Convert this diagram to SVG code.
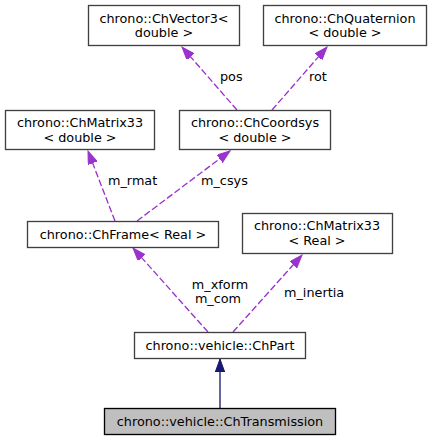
<svg xmlns="http://www.w3.org/2000/svg" width="432" height="440" viewBox="0 0 432 440">
<style>
.box{fill:#ffffff;stroke:#404040;stroke-width:1.33}
.cur{fill:#bfbfbf;stroke:#000000;stroke-width:1.33}
text{font-family:"DejaVu Sans","Liberation Sans",sans-serif;font-size:12.8px;fill:#000000}
.c{text-anchor:middle}
.dep{fill:none;stroke:#9a32cd;stroke-width:1.33;stroke-dasharray:6.7,2.7}
.inh{fill:none;stroke:#191970;stroke-width:1.33}
</style>
<defs>
<marker id="ap" markerUnits="userSpaceOnUse" markerWidth="14" markerHeight="10" refX="13" refY="4.7" orient="auto" viewBox="0 0 14 10">
<path d="M0,0 L13,4.7 L0,9.4 Z" fill="#9a32cd" stroke="#9a32cd" stroke-width="1"/>
</marker>
<marker id="an" markerUnits="userSpaceOnUse" markerWidth="14" markerHeight="10" refX="13" refY="4.7" orient="auto" viewBox="0 0 14 10">
<path d="M0,0 L13,4.7 L0,9.4 Z" fill="#191970" stroke="#191970" stroke-width="1"/>
</marker>
</defs>
<rect width="432" height="440" fill="#ffffff"/>
<g id="connectors">
<path class="dep" d="M237,110 L182,47" marker-end="url(#ap)"/>
<path class="dep" d="M272,110 L327,47" marker-end="url(#ap)"/>
<path class="dep" d="M115,221 L88,151" marker-end="url(#ap)"/>
<path class="dep" d="M137,221 L230,151" marker-end="url(#ap)"/>
<path class="dep" d="M208,332 L133,248" marker-end="url(#ap)"/>
<path class="dep" d="M233,332 L302,255" marker-end="url(#ap)"/>
<path class="inh" d="M220,408 L220,359" marker-end="url(#an)"/>
<text x="220" y="81">pos</text>
<text x="309" y="81">rot</text>
<text x="108" y="185">m_rmat</text>
<text x="201" y="185">m_csys</text>
<text x="220" y="289" class="c">m_xform</text>
<text x="218" y="303" class="c">m_com</text>
<text x="284" y="297">m_inertia</text>
</g>
<g id="node-vector3">
<rect class="box" x="88.5" y="5.5" width="151" height="40"/>
<text x="164" y="22.5" class="c">chrono::ChVector3&lt;</text>
<text x="164" y="37" class="c">double &gt;</text>
</g>
<g id="node-quaternion">
<rect class="box" x="263.5" y="5.5" width="163" height="40"/>
<text x="345" y="22.5" class="c">chrono::ChQuaternion</text>
<text x="345" y="37" class="c">&lt; double &gt;</text>
</g>
<g id="node-matrix33-double">
<rect class="box" x="5.5" y="110.5" width="149" height="39"/>
<text x="80" y="127" class="c">chrono::ChMatrix33</text>
<text x="80" y="141.5" class="c">&lt; double &gt;</text>
</g>
<g id="node-coordsys">
<rect class="box" x="179.5" y="110.5" width="151" height="39"/>
<text x="255" y="127" class="c">chrono::ChCoordsys</text>
<text x="255" y="141.5" class="c">&lt; double &gt;</text>
</g>
<g id="node-frame">
<rect class="box" x="27.5" y="221.5" width="191" height="26"/>
<text x="123" y="239" class="c">chrono::ChFrame&lt; Real &gt;</text>
</g>
<g id="node-matrix33-real">
<rect class="box" x="242.5" y="213.5" width="150" height="40"/>
<text x="317" y="230" class="c">chrono::ChMatrix33</text>
<text x="317" y="244.5" class="c">&lt; Real &gt;</text>
</g>
<g id="node-part">
<rect class="box" x="134.5" y="332.5" width="171" height="26"/>
<text x="220" y="350" class="c">chrono::vehicle::ChPart</text>
</g>
<g id="node-transmission">
<rect class="cur" x="104.5" y="408.5" width="231" height="26"/>
<text x="220" y="426" class="c">chrono::vehicle::ChTransmission</text>
</g>
</svg>
